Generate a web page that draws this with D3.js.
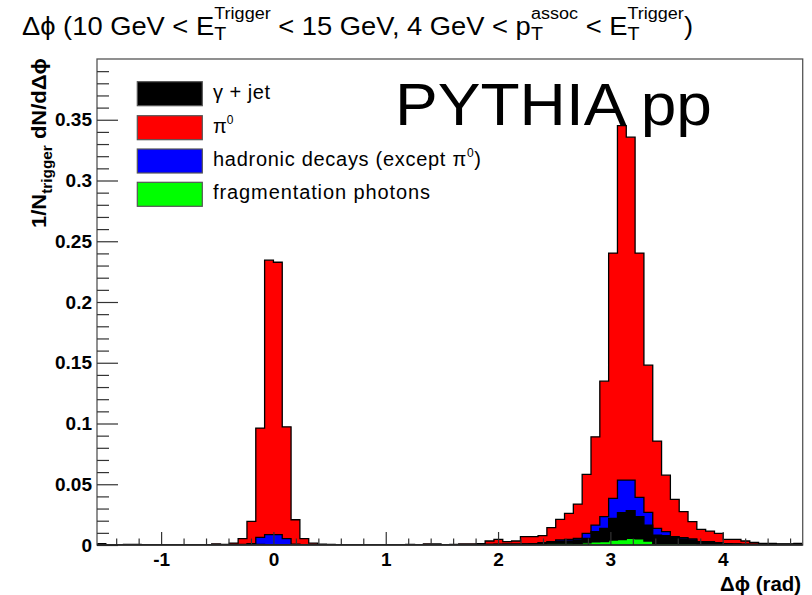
<!DOCTYPE html>
<html>
<head>
<meta charset="utf-8">
<script src="https://cdn.jsdelivr.net/npm/d3@7"></script>
<style>
  body { margin: 0; background: #fff; }
  svg { display: block; }
  text { font-family: "Liberation Sans", Arial, Helvetica, sans-serif; }
</style>
</head>
<body>
<svg id="chart" width="812" height="595"></svg>
<script>
// Histogram binning: 80 bins over [-pi/2, 3pi/2]
const nBins = 80;
const binLow = -Math.PI / 2;
const binHigh = 3 * Math.PI / 2;

// Per-trigger yields per bin, dN/dDphi
const pi0 = [
  0.0012, 0.0003, 0.0003, 0.0004, 0.0005, 0.0003, 0.0002, 0.0003, 0.0002, 0.0003,
  0.0003, 0.0002, 0.0003, 0.0010, 0.0004, 0.0016, 0.0053, 0.0195, 0.0962, 0.2344,
  0.2327, 0.0973, 0.0208, 0.0052, 0.0015, 0.0007, 0.0004, 0.0003, 0.0002, 0.0003,
  0.0002, 0.0003, 0.0003, 0.0002, 0.0003, 0.0005, 0.0003, 0.0010, 0.0009, 0.0003,
  0.0005, 0.0010, 0.0010, 0.0012, 0.0033, 0.0047, 0.0027, 0.0033, 0.0069, 0.0069,
  0.0077, 0.0143, 0.0211, 0.0260, 0.0337, 0.0581, 0.0890, 0.1348, 0.2403, 0.3452,
  0.3357, 0.2403, 0.1480, 0.0855, 0.0575, 0.0375, 0.0274, 0.0192, 0.0129, 0.0115,
  0.0096, 0.0047, 0.0047, 0.0033, 0.0022, 0.0014, 0.0014, 0.0009, 0.0009, 0.0014
];
const hadronicDecays = [
  0.0001, 0, 0.0001, 0, 0.0001, 0, 0, 0.0001, 0, 0,
  0, 0.0001, 0, 0.0001, 0.0001, 0.0002, 0.0004, 0.0012, 0.0062, 0.0086,
  0.0086, 0.0052, 0.0008, 0.0003, 0.0001, 0.0001, 0, 0.0001, 0, 0,
  0, 0, 0.0001, 0, 0, 0.0001, 0, 0.0001, 0.0001, 0,
  0.0001, 0.0002, 0.0002, 0.0003, 0.0005, 0.0006, 0.0006, 0.0007, 0.0010, 0.0012,
  0.0018, 0.0027, 0.0041, 0.0047, 0.0055, 0.0096, 0.0164, 0.0233, 0.0383, 0.0534,
  0.0534, 0.0392, 0.0269, 0.0137, 0.0110, 0.0069, 0.0060, 0.0050, 0.0022, 0.0016,
  0.0012, 0.0008, 0.0006, 0.0005, 0.0004, 0.0003, 0.0002, 0.0002, 0.0002, 0.0001
];
const gammaJet = [
  0, 0, 0, 0, 0, 0, 0, 0, 0, 0,
  0, 0, 0, 0, 0, 0, 0, 0, 0, 0,
  0, 0, 0, 0, 0, 0, 0, 0, 0, 0,
  0, 0, 0, 0, 0, 0, 0, 0, 0, 0,
  0.0002, 0.0003, 0.0003, 0.0004, 0.0005, 0.0005, 0.0006, 0.0006, 0.0008, 0.0012,
  0.0018, 0.0022, 0.0027, 0.0033, 0.0041, 0.0055, 0.0110, 0.0137, 0.0219, 0.0266,
  0.0282, 0.0233, 0.0164, 0.0082, 0.0077, 0.0060, 0.0050, 0.0041, 0.0027, 0.0027,
  0.0020, 0.0012, 0.0010, 0.0008, 0.0006, 0.0005, 0.0005, 0.0008, 0.0006, 0.0005
];
const fragPhotons = [
  0, 0, 0, 0, 0, 0, 0, 0, 0, 0,
  0, 0, 0, 0, 0, 0, 0, 0, 0.0005, 0.0002,
  0.0002, 0, 0, 0, 0, 0, 0, 0, 0, 0,
  0, 0, 0, 0, 0, 0, 0, 0, 0, 0,
  0, 0, 0, 0, 0, 0, 0, 0, 0.0004, 0.0005,
  0.0007, 0.0010, 0.0010, 0.0010, 0.0011, 0.0018, 0.0025, 0.0027, 0.0041, 0.0045,
  0.0055, 0.0050, 0.0033, 0.0012, 0.0012, 0.0012, 0.0012, 0.0012, 0.0005, 0.0004,
  0.0002, 0.0002, 0.0002, 0.0002, 0.0002, 0.0002, 0.0002, 0.0002, 0.0002, 0.0002
];

// Draw order (back to front) and colours
const drawSeries = [
  { values: pi0, color: "#ff0000" },
  { values: hadronicDecays, color: "#0000ff" },
  { values: gammaJet, color: "#000000" },
  { values: fragPhotons, color: "#00ff00" }
];

// Legend entries (top to bottom)
const legendColors = ["#000000", "#ff0000", "#0000ff", "#00ff00"];
const legendTexts = [
  [{ text: "\u03b3 + jet" }],
  [{ text: "\u03c0" }, { sup: "0" }],
  [{ text: "hadronic decays (except \u03c0" }, { sup: "0" }, { text: ")" }],
  [{ text: "fragmentation photons" }]
];
const legendWidths = [57, null, 268, 217];

// Axes ticks
const xTickValues = [-1, 0, 1, 2, 3, 4];
const xTickLabels = ["-1", "0", "1", "2", "3", "4"];
const yTickValues = [0, 0.05, 0.1, 0.15, 0.2, 0.25, 0.3, 0.35];
const yTickLabels = ["0", "0.05", "0.1", "0.15", "0.2", "0.25", "0.3", "0.35"];

// Titles (straight-stroke phi, U+03D5)
const titleParts = [
  { text: "\u0394\u03d5 (10 GeV < E" }, { sup: "Trigger", sub: "T" },
  { text: " < 15 GeV, 4 GeV < p" }, { sup: "assoc", sub: "T" },
  { text: " < E" }, { sup: "Trigger", sub: "T" },
  { text: ")" }
];
const yTitleParts = [{ text: "1/N" }, { sub: "trigger" }, { text: " dN/d\u0394\u03d5" }];
const xTitle = "\u0394\u03d5 (rad)";
const annotation = "PYTHIA pp";

// ---- layout ----
const svg = d3.select("#chart");
svg.append("rect").attr("width", 812).attr("height", 595).attr("fill", "#fff");

const frame = { left: 97, right: 802.7, top: 59, bottom: 545 };
const x = d3.scaleLinear().domain([binLow, binHigh]).range([frame.left, frame.right]);
const y = d3.scaleLinear().domain([0, 0.4]).range([frame.bottom, frame.top]);

svg.append("clipPath").attr("id", "plotclip")
  .append("rect")
  .attr("x", frame.left).attr("y", frame.top)
  .attr("width", frame.right - frame.left).attr("height", frame.bottom - frame.top);

// Histograms
const edges = d3.range(nBins + 1).map(i => binLow + i * (binHigh - binLow) / nBins);
function stepPoints(vals) {
  const pts = [];
  vals.forEach((v, i) => { pts.push([edges[i], v]); pts.push([edges[i + 1], v]); });
  return pts;
}
const area = d3.area().x(d => x(d[0])).y0(y(0)).y1(d => y(d[1]));
const line = d3.line().x(d => x(d[0])).y(d => y(d[1]));

const histG = svg.append("g").attr("clip-path", "url(#plotclip)");
drawSeries.forEach(s => {
  const pts = stepPoints(s.values);
  histG.append("path").attr("d", area(pts)).attr("fill", s.color).attr("stroke", "none");
  histG.append("path").attr("d", line(pts)).attr("fill", "none")
    .attr("stroke", "#000").attr("stroke-width", 1.3);
});

// Frame
svg.append("rect")
  .attr("x", frame.left).attr("y", frame.top)
  .attr("width", frame.right - frame.left).attr("height", frame.bottom - frame.top)
  .attr("fill", "none").attr("stroke", "#555").attr("stroke-width", 1.3);

// Y axis
const yMinor = d3.range(1, 40).map(k => k / 100).filter(v => Math.abs(v * 20 - Math.round(v * 20)) > 1e-6);
svg.append("g").attr("transform", `translate(${frame.left},0)`)
  .call(d3.axisLeft(y).tickValues(yMinor).tickFormat("").tickSizeInner(-12).tickSizeOuter(0))
  .call(g => g.select(".domain").remove());
const yAxisG = svg.append("g").attr("transform", `translate(${frame.left},0)`)
  .call(d3.axisLeft(y).tickValues(yTickValues)
    .tickFormat((d, i) => yTickLabels[i]).tickSizeInner(-21).tickSizeOuter(0).tickPadding(5))
  .call(g => g.select(".domain").remove());
yAxisG.selectAll("text").attr("font-size", 19).attr("font-weight", "bold")
  .attr("font-family", "Liberation Sans, Arial, sans-serif").attr("fill", "#000");

// X axis
const xMinor = d3.range(-7, 24).map(k => k / 5).filter(v => Math.abs(v - Math.round(v)) > 1e-6);
svg.append("g").attr("transform", `translate(0,${frame.bottom})`)
  .call(d3.axisBottom(x).tickValues(xMinor).tickFormat("").tickSizeInner(-6.5).tickSizeOuter(0))
  .call(g => g.select(".domain").remove());
const xAxisG = svg.append("g").attr("transform", `translate(0,${frame.bottom})`)
  .call(d3.axisBottom(x).tickValues(xTickValues)
    .tickFormat((d, i) => xTickLabels[i]).tickSizeInner(-13).tickSizeOuter(0).tickPadding(8))
  .call(g => g.select(".domain").remove());
xAxisG.selectAll("text").attr("font-size", 19).attr("font-weight", "bold")
  .attr("font-family", "Liberation Sans, Arial, sans-serif").attr("fill", "#000");
svg.selectAll(".tick line").attr("stroke", "#333").attr("stroke-width", 1.2);

// Bottom axis line
svg.append("line").attr("x1", frame.left).attr("x2", frame.right)
  .attr("y1", frame.bottom).attr("y2", frame.bottom)
  .attr("stroke", "#222").attr("stroke-width", 1.5);

// Rich text layout: main runs, superscripts and subscripts stacked at the same x
function layoutRich(parent, parts, size, opt) {
  let cx = 0;
  const weight = opt.weight || "normal";
  parts.forEach(p => {
    if (p.text !== undefined) {
      const t = parent.append("text").attr("x", cx).attr("y", 0)
        .attr("font-size", size).attr("font-weight", weight).attr("xml:space", "preserve")
        .style("white-space", "pre").text(p.text);
      cx += t.node().getComputedTextLength();
    } else {
      let w = 0;
      if (p.sup !== undefined) {
        const t = parent.append("text").attr("x", cx).attr("y", opt.supShift)
          .attr("font-size", size * opt.supScale).attr("font-weight", weight).text(p.sup);
        w = Math.max(w, t.node().getComputedTextLength());
      }
      if (p.sub !== undefined) {
        const t = parent.append("text").attr("x", cx).attr("y", opt.subShift)
          .attr("font-size", size * opt.subScale).attr("font-weight", weight).text(p.sub);
        w = Math.max(w, t.node().getComputedTextLength());
      }
      cx += w;
    }
  });
  return cx;
}

// Title
const titleG = svg.append("g");
const tw = layoutRich(titleG.append("g"), titleParts, 25.5,
  { supShift: -16, supScale: 0.66, subShift: 5, subScale: 0.72 });
titleG.attr("transform", `translate(22,35) scale(${671 / tw},1)`);

// Y title (rotated, right-aligned at the top of the axis)
const yTitleG = svg.append("g");
const ytw = layoutRich(yTitleG.append("g"), yTitleParts, 20,
  { supShift: -8, supScale: 0.7, subShift: 6, subScale: 0.7, weight: "bold" });
yTitleG.attr("transform", `translate(46,228) rotate(-90) scale(${170 / ytw},1)`);

// X title
svg.append("text").attr("x", 801).attr("y", 591).attr("text-anchor", "end")
  .attr("font-size", 20).attr("font-weight", "bold")
  .attr("textLength", 81).attr("lengthAdjust", "spacingAndGlyphs").text(xTitle);

// Legend
const legendTop = [81.7, 115.7, 149, 182.3];
legendTexts.forEach((parts, i) => {
  svg.append("rect").attr("x", 137.3).attr("y", legendTop[i])
    .attr("width", 65).attr("height", 24)
    .attr("fill", legendColors[i]).attr("stroke", "#555").attr("stroke-width", 1.2);
  const t = svg.append("text").attr("x", 213).attr("y", legendTop[i] + 12 + 5)
    .attr("font-size", 20).attr("xml:space", "preserve");
  let raised = false;
  parts.forEach(p => {
    if (p.text !== undefined) {
      t.append("tspan").attr("dy", raised ? 9 : null).text(p.text);
      raised = false;
    } else {
      t.append("tspan").attr("font-size", 12).attr("dy", -9).text(p.sup);
      raised = true;
    }
  });
  if (legendWidths[i]) t.attr("textLength", legendWidths[i]).attr("lengthAdjust", "spacing");
});

// Annotation
svg.append("text").attr("x", 395).attr("y", 125)
  .attr("font-family", "DejaVu Sans, sans-serif").attr("font-size", 59)
  .attr("textLength", 317).attr("lengthAdjust", "spacingAndGlyphs")
  .attr("fill", "#000").text(annotation);
</script>
</body>
</html>
